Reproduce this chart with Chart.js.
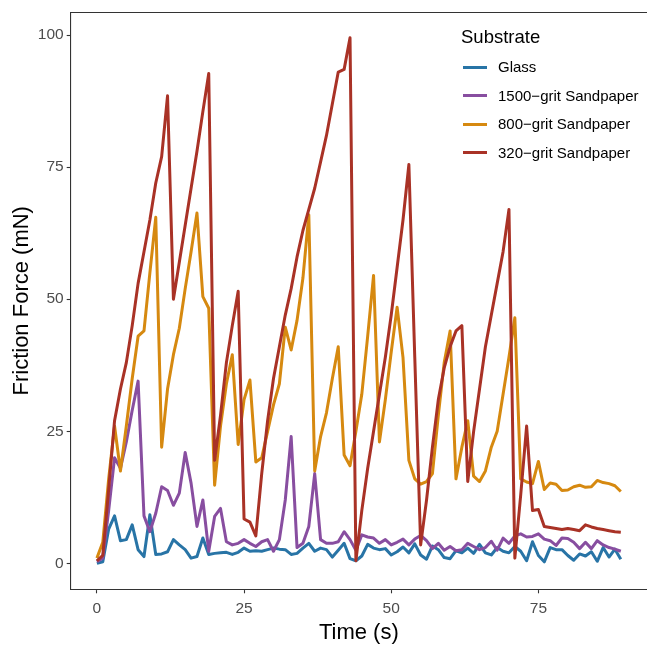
<!DOCTYPE html>
<html><head><meta charset="utf-8">
<script src="https://cdn.jsdelivr.net/npm/chart.js@4.4.1/dist/chart.umd.min.js"></script>
<style>
html,body{margin:0;padding:0;background:#fff;}
#wrap{position:relative;width:647px;height:648px;}
#legend{position:absolute;left:0;top:0;width:647px;height:0;font-family:"Liberation Sans",Arial,Helvetica,sans-serif;color:#000;}
#legend .ttl{position:absolute;left:461px;top:27.6px;font-size:18.5px;line-height:18.5px;white-space:nowrap;}
#legend .key{position:absolute;left:463px;width:24px;height:3px;}
#legend .lab{position:absolute;left:498px;font-size:15px;line-height:20px;white-space:nowrap;}
</style></head><body>
<div id="wrap"><canvas id="c" width="647" height="648"></canvas><div id="legend"></div></div>
<script>
const legendTitle = "Substrate";
const seriesNames = ["Glass", "1500\u2212grit Sandpaper", "800\u2212grit Sandpaper", "320\u2212grit Sandpaper"];
const seriesColors = ["#2874A6", "#884EA0", "#D68910", "#A93226"];
const xTickValues = [0, 25, 50, 75];
const yTickValues = [0, 25, 50, 75, 100];

const timeS = [0,1,2,3,4,5,6,7,8,9,10,11,12,13,14,15,16,17,18,19,20,21,22,23,24,25,26,27,28,29,
  30,31,32,33,34,35,36,37,38,39,40,41,42,43,44,45,46,47,48,49,50,51,52,53,54,55,56,57,58,59,
  60,61,62,63,64,65,66,67,68,69,70,71,72,73,74,75,76,77,78,79,80,81,82,83,84,85,86,87,88,89];

const glass = [0,0.3,6.5,9,4.3,4.5,7.3,2.6,1.3,9.2,1.7,1.8,2.2,4.5,3.5,2.6,1.0,1.3,4.8,1.7,
  1.9,2.0,2.1,1.7,2.1,2.9,2.3,2.4,2.3,2.6,2.9,2.7,2.6,1.7,1.9,2.9,3.8,2.3,2.9,2.6,
  1.2,2.5,3.8,0.9,0.5,1.4,3.6,2.9,2.6,2.8,1.6,2.2,3.1,2.0,3.7,1.6,0.8,3.3,2.6,1.1,
  0.9,2.4,2.0,2.9,1.9,3.6,2.0,1.6,3.0,2.3,2.0,3.2,2.3,0.5,4.1,1.5,0.3,3.0,2.6,2.6,
  1.5,0.6,1.8,1.4,2.2,0.4,3.0,1.2,2.7,0.8];

const grit1500 = [0.3,1.0,10,20,18,23,29,34.5,9,6,9.5,14.5,13.8,11,13.3,21,15.2,7,12,2.3,
  8.9,10.4,4.1,3.5,3.8,4.5,3.8,3.2,4.1,4.5,2.3,4.5,12,24,3.0,3.8,7,17,4.5,3.8,
  3.8,4.1,6.0,4.5,2.5,5.4,5.0,4.8,3.8,4.5,3.5,4.0,4.6,3.5,4.6,5.3,4.3,2.8,3.8,2.5,
  3.2,2.4,2.6,3.8,3.2,2.6,3.0,4.2,2.5,4.8,3.8,5.2,5.6,5.0,5.1,5.6,4.6,4.3,3.4,4.8,
  4.7,4.0,2.8,4.0,2.8,4.3,3.5,3.0,2.7,2.3];

const grit800 = [1,4,16,26,17.5,26,35,43,44,55,65.5,22,33,39.5,44.5,52,59,66.3,50.5,48.3,
  14.8,26,34,39.5,22.5,31,34.7,19.2,20,25,30,34,44.7,40.4,46,54,66,17.5,24,28.5,
  35,41,20.5,18.5,25,32,43,54.5,23,31,40,48.5,39,19.5,16,15,15.5,17,28,38,
  44,16,22,27,16.5,15.5,17.5,22,25,32,39,46.5,16,15.4,15.1,19.3,14,15.2,15,13.8,
  13.9,14.5,14.8,14.4,14.5,15.7,15.3,15.1,14.7,13.6];

const grit320 = [0.5,1.5,14,27,33,38,45,53,59,65,72,77,88.5,50,57,64,71,78,85.5,92.7,
  19.5,28,38,45,51.5,8.4,7.8,5.2,17,27,35,41,47,52,58,63,67,71,76,81,
  87,93,93.5,99.5,0.5,10,18,25,32,39,47,56,65,75.5,39,3.5,12,22,31,37,
  41,44,45,15.5,25,33,41,47,53,59,67,1,13,26,10,10.2,7,6.8,6.6,6.4,
  6.6,6.4,6.2,7.3,6.9,6.6,6.4,6.2,6.0,5.9];

const seriesValues = [glass, grit1500, grit800, grit320];
const FONT = '"Liberation Sans", Arial, Helvetica, sans-serif';
Chart.defaults.font.family = FONT;
const AX = '#333333';

const datasets = seriesNames.map((name, i) => ({
  label: name,
  data: timeS.map((t, j) => ({x: t, y: seriesValues[i][j]})),
  borderColor: seriesColors[i],
  backgroundColor: seriesColors[i],
  borderWidth: 3,
  pointRadius: 0,
  tension: 0,
  fill: false,
  borderJoinStyle: 'round',
  order: seriesNames.length - i,
  xAxisID: 'x',
  yAxisID: 'y'
}));

new Chart(document.getElementById('c'), {
  type: 'line',
  data: { datasets },
  options: {
    responsive: false,
    animation: false,
    events: [],
    layout: { padding: 0 },
    plugins: { legend: { display: false }, tooltip: { enabled: false } },
    scales: {
      x: {
        type: 'linear', position: 'bottom', min: -4.45, max: 93.45,
        afterBuildTicks: s => { s.ticks = xTickValues.map(v => ({ value: v })); },
        afterFit: s => { s.height = 58.7; },
        grid: { display: true, drawOnChartArea: false, drawTicks: true, tickLength: 4, tickWidth: 1.1, tickColor: AX, color: AX },
        border: { display: true, color: AX, width: 1.1 },
        ticks: { color: '#4d4d4d', font: { size: 15.5 }, padding: 6, maxRotation: 0, autoSkip: false },
        title: { display: true, text: 'Time (s)', color: '#000', font: { size: 22 }, padding: { top: 0, bottom: 1.8 } }
      },
      x2: {
        type: 'linear', position: 'top', min: -4.45, max: 93.45,
        afterFit: s => { s.height = 10; },
        grid: { display: true, drawOnChartArea: false, drawTicks: false, color: AX },
        border: { display: true, color: AX, width: 1.1 },
        ticks: { display: false }
      },
      y: {
        type: 'linear', position: 'left', min: -4.9, max: 104.3,
        afterBuildTicks: s => { s.ticks = yTickValues.map(v => ({ value: v })); },
        afterFit: s => { s.width = 70.7; },
        grid: { display: true, drawOnChartArea: false, drawTicks: true, tickLength: 4, tickWidth: 1.1, tickColor: AX, color: AX },
        border: { display: true, color: AX, width: 1.1 },
        ticks: { color: '#4d4d4d', font: { size: 15.5 }, padding: 3, autoSkip: false },
        title: { display: true, text: 'Friction Force (mN)', color: '#000', font: { size: 22 }, padding: { top: 8.8, bottom: 0 } }
      }
    }
  }
});

// legend (inside panel, top right)
const lg = document.getElementById('legend');
const t = document.createElement('div');
t.className = 'ttl'; t.textContent = legendTitle; lg.appendChild(t);
const keyCenters = [67, 95.5, 124, 152.5];
seriesNames.forEach((name, i) => {
  const k = document.createElement('div');
  k.className = 'key'; k.style.background = seriesColors[i];
  k.style.top = (keyCenters[i] - 1.5) + 'px';
  lg.appendChild(k);
  const l = document.createElement('div');
  l.className = 'lab'; l.textContent = name;
  l.style.top = (keyCenters[i] - 10) + 'px';
  lg.appendChild(l);
});
</script>
</body></html>
